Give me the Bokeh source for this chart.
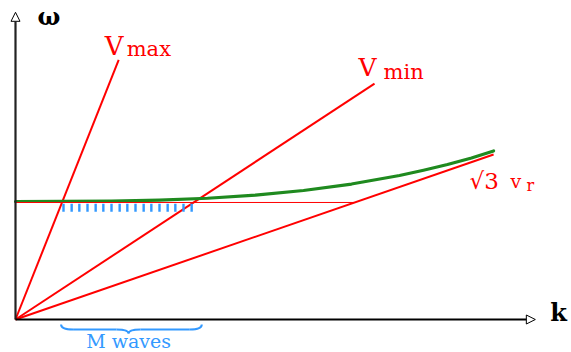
import numpy as np
from bokeh.plotting import figure
from bokeh.models import Range1d, Arrow, NormalHead, Label
from bokeh.embed import file_html
from bokeh.resources import INLINE

# ---- data (k, omega in arbitrary units) ----
# rays from the origin: slopes (velocities) and the k where each ray ends
ray_names = ["Vmax", "Vmin", "sqrt3_vr"]
ray_slopes = [2.515, 0.657, 0.345]
ray_k_end = [0.215, 0.748, 0.996]

# dispersion curve omega(k) (green)
curve_k = [0.0, 0.1, 0.2, 0.3, 0.4, 0.5, 0.6, 0.7, 0.8, 0.85, 0.9, 0.95, 0.996]
curve_w = [0.2458, 0.2460, 0.2468, 0.2488, 0.2526, 0.2592, 0.2688, 0.2822,
           0.3001, 0.3110, 0.3230, 0.3366, 0.3512]

# horizontal reference level and hatched band (M waves)
omega_level = 0.2438
hatch_k = [0.100, 0.117, 0.133, 0.150, 0.167, 0.183, 0.200, 0.217, 0.233,
           0.250, 0.267, 0.283, 0.300, 0.317, 0.333, 0.350, 0.367]
hatch_top = 0.2410
hatch_bottom = 0.2245

axis_k_max = 1.083
axis_w_max = 0.640

PX = 480.0  # pixels per data unit
W, H = 571, 352
OX, OY = 15, 319  # origin position in pixels

RED = "#ff0000"
GREEN = "#1f8a1f"
BLUE = "#3399ff"
SERIF = "DejaVu Serif"
SHIFT = 8  # baseline correction (px, upwards)

p = figure(width=W, height=H,
           x_range=Range1d(-OX / PX, (W - OX) / PX),
           y_range=Range1d(-(H - OY) / PX, OY / PX),
           output_backend="svg", toolbar_location=None,
           x_axis_location=None, y_axis_location=None, min_border=0)
p.grid.visible = False
p.outline_line_color = None
p.background_fill_color = "white"
p.border_fill_color = "white"

# rays
for s, ke in zip(ray_slopes, ray_k_end):
    p.line([0, ke], [0, s * ke], line_color=RED, line_width=2)

# dispersion curve
p.line(curve_k, curve_w, line_color=GREEN, line_width=3.2, line_join="round", line_cap="round")

# horizontal level up to the sqrt(3) v_r ray
k_cross = omega_level / ray_slopes[2]
p.line([0, k_cross], [omega_level, omega_level], line_color=RED, line_width=1)

# hatch ticks
p.segment(x0=hatch_k, y0=[hatch_top] * len(hatch_k), x1=hatch_k,
          y1=[hatch_bottom] * len(hatch_k), line_color=BLUE, line_width=2.4)

# axes with open arrow heads
p.add_layout(Arrow(end=NormalHead(size=9, fill_color="white", line_color="black", line_width=1),
                   x_start=0, y_start=0, x_end=0, y_end=axis_w_max,
                   line_color="#222222", line_width=2.2))
p.add_layout(Arrow(end=NormalHead(size=9, fill_color="white", line_color="black", line_width=1),
                   x_start=0, y_start=0, x_end=axis_k_max, y_end=0,
                   line_color="black", line_width=2))

# curly brace under the M-wave band
L = omega_level / ray_slopes[0] - 0.002
R = omega_level / ray_slopes[1] + 0.017
C = (L + R) / 2 - 0.006
y_end = -5 / PX
y_flat = -10 / PX
y_tip = -14 / PX
d = 12 / PX
bx0 = [L, C - d, R, C + d]
by0 = [y_end, y_flat, y_end, y_flat]
bx1 = [L + d, C, R - d, C]
by1 = [y_flat, y_tip, y_flat, y_tip]
bcx = [L, C, R, C]
bcy = [y_flat, y_flat, y_flat, y_flat]
p.quadratic(x0=bx0, y0=by0, x1=bx1, y1=by1, cx=bcx, cy=bcy, line_color=BLUE, line_width=2)
p.segment(x0=[L + d, C + d], y0=[y_flat, y_flat], x1=[C - d, R - d], y1=[y_flat, y_flat],
          line_color=BLUE, line_width=2)

p.add_layout(Label(x=C, y=y_tip, text="M waves", text_align="center", text_baseline="alphabetic",
                   y_offset=-15 + SHIFT, text_font=SERIF, text_font_size="19px", text_color=BLUE))

# ray labels
def lab(x, y, t, dx, dy, size, color=RED, style="normal"):
    p.add_layout(Label(x=x, y=y, text=t, x_offset=dx, y_offset=dy + SHIFT, text_align="left",
                       text_baseline="alphabetic", text_font=SERIF, text_font_size=size,
                       text_color=color, text_font_style=style))

k0, k1, k2 = ray_k_end
lab(k0, ray_slopes[0] * k0, "V", -14, 6, "26px")
lab(k0, ray_slopes[0] * k0, "max", 8, 3, "21px")
lab(k1, ray_slopes[1] * k1, "V", -16, 8, "25px")
lab(k1, ray_slopes[1] * k1, "min", 9, 4, "21px")
lab(k2, ray_slopes[2] * k2, "\u221a3", -24, -34, "23px")
lab(k2, ray_slopes[2] * k2, "v", 17, -34, "19px")
lab(k2, ray_slopes[2] * k2, "r", 33, -39, "16px")

# axis labels
lab(0, axis_w_max, "\u03c9", 22, -12, "24px", color="black", style="bold")
lab(axis_k_max, 0, "k", 15, -1, "24px", color="black", style="bold")

open("out.html", "w").write(file_html(p, INLINE))
